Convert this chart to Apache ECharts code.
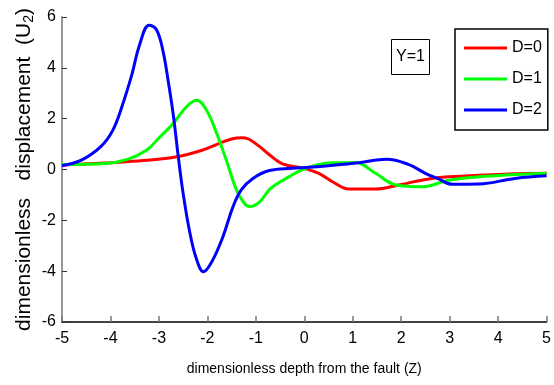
<!DOCTYPE html>
<html>
<head>
<meta charset="utf-8">
<script src="https://cdn.jsdelivr.net/npm/echarts@6/dist/echarts.min.js"></script>
<style>
  html, body { margin: 0; padding: 0; background: #fff; }
  #chart { width: 554px; height: 385px; }
</style>
</head>
<body>
<div id="chart"></div>
<script>
// 数据
var xTicks = [-5, -4, -3, -2, -1, 0, 1, 2, 3, 4, 5];
var yTicks = [-6, -4, -2, 0, 2, 4, 6];
var seriesNames = ['D=0', 'D=1', 'D=2'];

// D=0
var z0 = [-5, -4, -3.32, -2.63, -2.09, -1.75, -1.5, -1.3, -1.15, -0.92, -0.7, -0.45, 0, 0.3, 0.6, 0.92, 1.47, 1.95, 2.63, 3.32, 4.35, 5];
var u0 = [0.18, 0.27, 0.35, 0.5, 0.77, 1.03, 1.2, 1.25, 1.2, 0.9, 0.55, 0.22, 0.04, -0.15, -0.5, -0.77, -0.77, -0.61, -0.35, -0.26, -0.17, -0.15];

// D=1
var z1 = [-5, -4.1, -3.65, -3.25, -2.98, -2.7, -2.43, -2.22, -2.02, -1.81, -1.61, -1.4, -1.25, -1.13, -0.92, -0.7, -0.31, -0.07, 0.3, 0.58, 1.06, 1.47, 1.88, 2.43, 2.98, 3.66, 5];
var u1 = [0.2, 0.24, 0.4, 0.77, 1.28, 1.82, 2.47, 2.72, 2.34, 1.43, 0.37, -0.8, -1.3, -1.46, -1.27, -0.75, -0.28, -0.03, 0.2, 0.27, 0.28, -0.15, -0.6, -0.68, -0.42, -0.28, -0.15];

// D=2
var z2 = [-5, -4.6, -4.2, -3.95, -3.75, -3.56, -3.4, -3.2, -3.05, -2.92, -2.81, -2.7, -2.6, -2.5, -2.36, -2.22, -2.08, -1.9, -1.68, -1.47, -1.3, -1.06, -0.72, -0.25, 0.1, 0.6, 1.13, 1.7, 2.15, 2.5, 2.75, 3.05, 3.6, 4.35, 5];
var u2 = [0.15, 0.37, 0.9, 1.55, 2.55, 3.72, 4.9, 5.68, 5.5, 4.7, 3.5, 2.1, 0.5, -0.94, -2.5, -3.55, -4.02, -3.6, -2.65, -1.46, -0.8, -0.35, -0.04, 0.05, 0.09, 0.17, 0.27, 0.4, 0.2, -0.15, -0.35, -0.58, -0.57, -0.35, -0.25];

var colors = ['#ff0000', '#00ff00', '#0000ff'];

function pairs(xs, ys) {
    return xs.map(function (x, i) { return [x, ys[i]]; });
}
var allData = [pairs(z0, u0), pairs(z1, u1), pairs(z2, u2)];

var myChart = echarts.init(document.getElementById('chart'));

var fontFamily = 'Liberation Sans, Arial, sans-serif';

myChart.setOption({
    animation: false,
    backgroundColor: '#fff',
    textStyle: { fontFamily: fontFamily },
    grid: { left: 62, right: 4, top: 17, bottom: 63 },
    title: {
        text: 'Y=1',
        left: 391,
        top: 39,
        padding: [10, 5],
        borderColor: '#000',
        borderWidth: 1,
        textStyle: { fontSize: 16, fontWeight: 'normal', color: '#000', fontFamily: fontFamily }
    },
    legend: {
        data: seriesNames,
        orient: 'vertical',
        left: 455,
        top: 29,
        padding: [11, 6, 12, 9],
        itemGap: 15,
        itemWidth: 43,
        itemHeight: 3,
        itemTextGap: 5,
        icon: 'rect',
        borderColor: '#000',
        borderWidth: 1.5,
        backgroundColor: '#fff',
        textStyle: { fontSize: 16, color: '#000', fontFamily: fontFamily }
    },
    xAxis: {
        type: 'value',
        min: -5,
        max: 5,
        interval: 1,
        name: 'dimensionless depth from the fault (Z)',
        nameLocation: 'middle',
        nameGap: 40,
        nameTextStyle: { fontSize: 14, color: '#000' },
        axisLine: { onZero: false, lineStyle: { color: '#000', width: 1.5 } },
        axisTick: { inside: true, length: 6, lineStyle: { color: '#777', width: 1.5 } },
        axisLabel: { fontSize: 16, color: '#000', margin: 9 },
        splitLine: { show: false }
    },
    yAxis: {
        type: 'value',
        min: -6,
        max: 6,
        interval: 2,
        name: 'dimensionless   displacement  (U{sub|2})',
        nameLocation: 'middle',
        nameGap: 26,
        nameMoveOverlap: false,
        nameRotate: 90,
        nameTextStyle: {
            fontSize: 21,
            color: '#000',
            rich: {
                sub: { fontSize: 14, verticalAlign: 'bottom', padding: [10, 0, 0, 0], color: '#000' }
            }
        },
        axisLine: { show: true, onZero: false, lineStyle: { color: '#999', width: 2 } },
        axisTick: { show: true, inside: true, length: 5, lineStyle: { color: '#333', width: 1 } },
        axisLabel: { fontSize: 16, color: '#000', margin: 6 },
        splitLine: { show: false }
    },
    series: seriesNames.map(function (name, i) {
        return {
            name: name,
            type: 'line',
            data: allData[i],
            smooth: 0.4,
            showSymbol: false,
            color: colors[i],
            lineStyle: { width: 3, color: colors[i] }
        };
    })
});
</script>
</body>
</html>
